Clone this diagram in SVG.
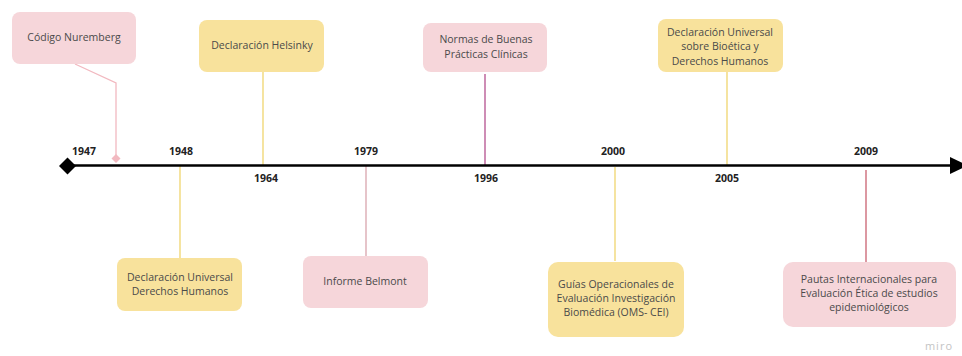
<svg xmlns="http://www.w3.org/2000/svg" width="962" height="356" viewBox="0 0 962 356">
<style>
.pink{fill:#f6d6da}
.yel{fill:#f8e29c}
.t{font-family:"Open Sans","Noto Sans",sans-serif;font-size:10.5px;fill:#4a4a4a;text-anchor:middle}
.y{font-family:"Open Sans","Noto Sans",sans-serif;font-size:10.5px;font-weight:bold;fill:#222;text-anchor:middle}
.c{fill:none;stroke-width:1.3}
</style>
<rect width="962" height="356" fill="#ffffff"/>
<g id="connectors">
<polyline class="c" stroke="#f2b9c0" points="75,64 116,83 116,157"/>
<path d="M116,154 L120.5,158.5 L116,163 L111.5,158.5 Z" fill="#f2b9c0"/>
<line class="c" stroke="#f0d56e" x1="263" y1="72" x2="263" y2="165"/>
<line class="c" stroke="#f0d56e" x1="180" y1="165" x2="180" y2="258"/>
<line class="c" stroke="#d9a5ad" x1="366" y1="165" x2="366" y2="256"/>
<line class="c" stroke="#b4508e" x1="485" y1="74" x2="485" y2="165"/>
<line class="c" stroke="#f0d56e" x1="615" y1="167" x2="615" y2="261"/>
<line class="c" stroke="#f0d56e" x1="727" y1="72" x2="727" y2="165"/>
<line class="c" stroke="#c96170" x1="866" y1="170" x2="866" y2="262"/>
</g>
<g id="axis">
<line x1="67" y1="165.5" x2="953" y2="165.5" stroke="#000" stroke-width="2.6"/>
<path d="M59,166 L67.5,157.5 L76,166 L67.5,174.5 Z" fill="#000"/>
<path d="M950,157 L968,165.5 L950,174 Z" fill="#000"/>
</g>
<g id="years">
<text class="y" x="84" y="155">1947</text>
<text class="y" x="181" y="155">1948</text>
<text class="y" x="266" y="182">1964</text>
<text class="y" x="366" y="155">1979</text>
<text class="y" x="486" y="182">1996</text>
<text class="y" x="613" y="155">2000</text>
<text class="y" x="727" y="182">2005</text>
<text class="y" x="866" y="155">2009</text>
</g>
<g id="n-nuremberg">
<rect class="pink" x="12" y="12" width="124" height="52" rx="8"/>
<text class="t" x="74" y="41">Código Nuremberg</text>
</g>
<g id="n-helsinky">
<rect class="yel" x="199" y="20" width="125" height="52" rx="8"/>
<text class="t" x="262" y="49">Declaración Helsinky</text>
</g>
<g id="n-dudh">
<rect class="yel" x="117" y="258" width="125" height="53" rx="8"/>
<text class="t" x="180" y="281">Declaración Universal</text>
<text class="t" x="180" y="295">Derechos Humanos</text>
</g>
<g id="n-belmont">
<rect class="pink" x="303" y="256" width="125" height="52" rx="8"/>
<text class="t" x="365" y="285">Informe Belmont</text>
</g>
<g id="n-normas">
<rect class="pink" x="423" y="23" width="124" height="49" rx="8"/>
<text class="t" x="486" y="43">Normas de Buenas</text>
<text class="t" x="486" y="58">Prácticas Clínicas</text>
</g>
<g id="n-guias">
<rect class="yel" x="548" y="262" width="136" height="75" rx="10"/>
<text class="t" x="616" y="288">Guías Operacionales de</text>
<text class="t" x="616" y="302">Evaluación Investigación</text>
<text class="t" x="616" y="316">Biomédica (OMS- CEI)</text>
</g>
<g id="n-unesco">
<rect class="yel" x="658" y="19" width="125" height="53" rx="8"/>
<text class="t" x="720" y="36">Declaración Universal</text>
<text class="t" x="720" y="50">sobre Bioética y</text>
<text class="t" x="720" y="65">Derechos Humanos</text>
</g>
<g id="n-pautas">
<rect class="pink" x="783" y="262" width="173" height="65" rx="10"/>
<text class="t" x="869" y="283">Pautas Internacionales para</text>
<text class="t" x="869" y="297">Evaluación Ética de estudios</text>
<text class="t" x="869" y="311">epidemiológicos</text>
</g>
<text x="953" y="350" font-family="'Open Sans','Noto Sans',sans-serif" font-size="11" fill="#c4c4c4" text-anchor="end" letter-spacing="1">miro</text>
</svg>
